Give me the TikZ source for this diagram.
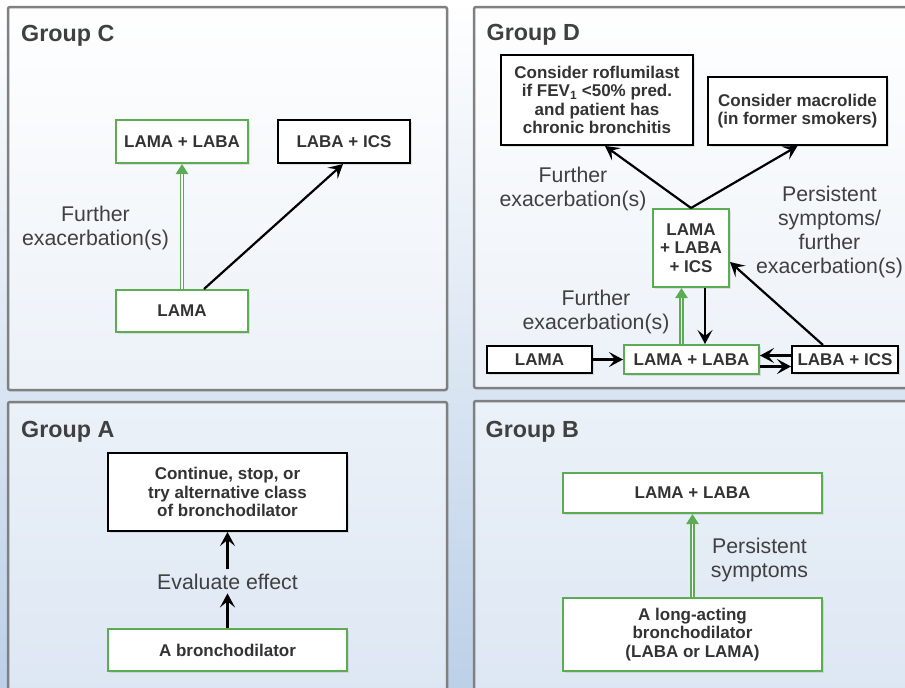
\documentclass[tikz,border=0pt]{standalone}
\usepackage{fontspec}
\setmainfont{Liberation Sans}
\usetikzlibrary{arrows.meta,shadows}

\definecolor{boxgreen}{RGB}{92,172,84}
\definecolor{panelgray}{RGB}{128,128,128}
\definecolor{labelgray}{RGB}{64,64,64}
\definecolor{textgray}{RGB}{51,51,51}
\definecolor{bgblue}{RGB}{188,208,232}

\begin{document}
\begin{tikzpicture}[x=1pt, y=-1pt,
    box/.style={draw=black, line width=2pt, fill=white, inner sep=0pt, align=center,
        text=textgray, font=\fontsize{17}{18.3}\selectfont\bfseries,
        drop shadow={shadow xshift=1.5pt, shadow yshift=-1.5pt, opacity=0.2}},
    gbox/.style={box, draw=boxgreen},
    panel/.style={draw=panelgray, line width=2.5pt, fill=white, fill opacity=0.5, rounded corners=2pt},
    title/.style={anchor=base west, inner sep=0pt, text=labelgray, font=\fontsize{23.3}{28}\selectfont\bfseries},
    lbl/.style={align=center, text=labelgray, font=\fontsize{21.3}{24}\selectfont},
    arr/.style={draw=black, line width=2.2pt, -{Stealth[length=14pt, width=15pt, inset=6pt]}},
    garr/.style={draw=boxgreen, line width=4.2pt, -{Triangle[length=10pt, width=12pt]},
        postaction={draw=white, line width=1.8pt, -, shorten >=10pt}}]

    \useasboundingbox (0,0) rectangle (905,688);
    \clip (0,0) rectangle (905,688);
    \shade[top color=white, bottom color=bgblue] (0,0) rectangle (905,688);

    % panels
    \draw[panel] (8,7) rectangle (447,390);
    \draw[panel] (474,7) rectangle (918,388);
    \draw[panel] (8,402) rectangle (447,700);
    \draw[panel] (474,401) rectangle (918,700);

    \node[title] (tC) at (21,41) {Group C};
    \node[title] (tD) at (486.5,40) {Group D};
    \node[title] (tA) at (21,437) {Group A};
    \node[title] (tB) at (485.5,437) {Group B};

    % group C
    \node[gbox, minimum width=132pt, minimum height=43pt] (cLL) at (182,141.5) {LAMA + LABA};
    \node[box, minimum width=132pt, minimum height=43pt] (cLI) at (344,141.5) {LABA + ICS};
    \node[gbox, minimum width=132pt, minimum height=42pt] (cL) at (182,311) {LAMA};
    \node[lbl] (cFur) at (95.5,227.5) {Further\\exacerbation(s)};
    \draw[garr] (cL.north) -- (cLL.south);
    \draw[arr] ([xshift=22pt]cL.north) -- ([xshift=-1pt]cLI.south);

    % group D
    \node[box, minimum width=192pt, minimum height=90pt] (dRof) at (597,100)
        {Consider roflumilast\\if FEV\textsubscript{1} <50\% pred.\\and patient has\\chronic bronchitis};
    \node[box, minimum width=179pt, minimum height=68pt] (dMac) at (797.5,111)
        {Consider macrolide\\(in former smokers)};
    \node[gbox, minimum width=76pt, minimum height=78pt] (dTri) at (691,248) {LAMA\\+ LABA\\+ ICS};
    \node[box, minimum width=105pt, minimum height=27pt] (dL) at (539.5,359.5) {LAMA};
    \node[gbox, minimum width=135pt, minimum height=29pt] (dLL) at (691.5,359.5) {LAMA + LABA};
    \node[box, minimum width=106pt, minimum height=27pt] (dLI) at (845,359.5) {LABA + ICS};
    \node[lbl] (dFurA) at (573,188.5) {Further\\exacerbation(s)};
    \node[lbl] (dFurB) at (596,311.5) {Further\\exacerbation(s)};
    \node[lbl] (dPers) at (829.5,232) {Persistent\\symptoms/\\further\\exacerbation(s)};
    \draw[arr] (dTri.north) -- ([xshift=8pt]dRof.south);
    \draw[arr] (dTri.north) -- (dMac.south);
    \draw[garr] ([xshift=-10pt]dLL.north) -- ([xshift=-10pt]dLL.north |- dTri.south);
    \draw[arr] ([xshift=14pt]dTri.south) -- ([xshift=14pt]dTri.south |- dLL.north);
    \draw[arr] (dL) -- (dLL);
    \draw[arr] ([xshift=-22pt]dLI.north) -- ([yshift=-14pt]dTri.east);
    \draw[arr] ([yshift=4pt]dLI.west) -- ([yshift=4pt]dLL.east);
    \draw[arr] ([yshift=-7pt]dLL.east) -- ([yshift=-7pt]dLI.west);

    % group A
    \node[box, minimum width=239pt, minimum height=78pt] (aTop) at (227.5,492)
        {Continue, stop, or\\try alternative class\\of bronchodilator};
    \node[gbox, minimum width=239pt, minimum height=42pt] (aBot) at (227.5,650) {A bronchodilator};
    \node[lbl, anchor=base, inner ysep=4pt] (aEval) at (227.5,589) {Evaluate effect};
    \draw[arr] (aBot) -- (aEval);
    \draw[arr] (aEval) -- (aTop);

    % group B
    \node[gbox, minimum width=259pt, minimum height=40pt] (bTop) at (692.5,493) {LAMA + LABA};
    \node[gbox, minimum width=259pt, minimum height=73pt] (bBot) at (692.5,634.5)
        {A long-acting\\bronchodilator\\(LABA or LAMA)};
    \node[lbl] (bPers) at (759.5,559.5) {Persistent\\symptoms};
    \draw[garr] (bBot) -- (bTop);
\end{tikzpicture}
\end{document}
